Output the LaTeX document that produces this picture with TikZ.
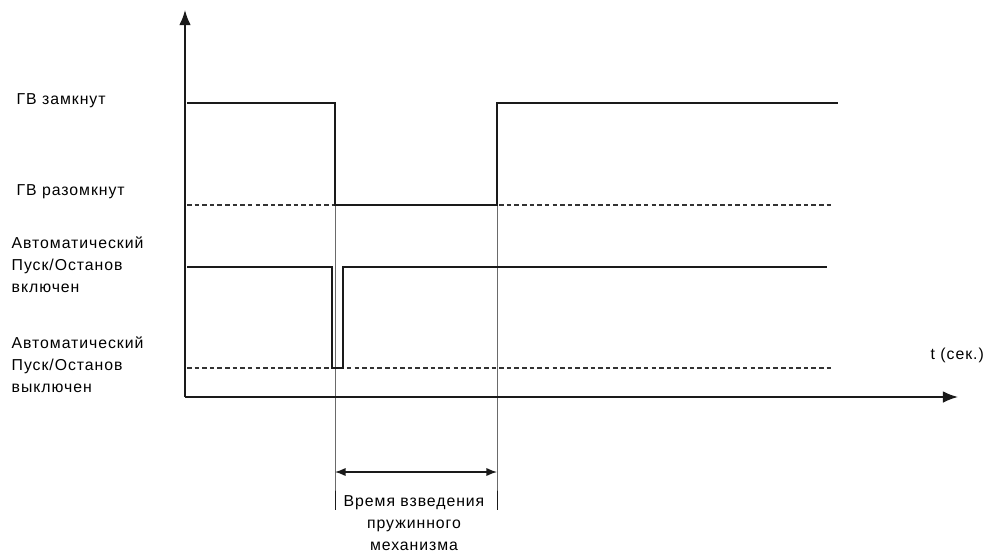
\documentclass[tikz,border=0pt]{standalone}
\usepackage{fontspec}
\setmainfont[LetterSpace=6]{Liberation Sans}
\usetikzlibrary{arrows.meta,positioning}
\definecolor{axisgray}{HTML}{1A1A1A}
\definecolor{dashgray}{HTML}{333333}

\begin{document}
\begin{tikzpicture}[x=0.03cm, y=-0.03cm, >={Latex[length=13pt,width=10pt]},
    line width=1.4pt, font=\fontsize{13.5}{18.7}\selectfont,
    levelline/.style={dashgray, line width=0.9pt, dash pattern=on 3.9pt off 2.6pt}]
  \useasboundingbox (0,0) rectangle (1003,556);

  % axes
  \draw[axisgray, ->] (185,397) -- (185,10);
  \draw[axisgray, ->] (185,397) -- (958,397);
  \node[anchor=west] (tlabel) at (926,355) {t (сек.)};

  % levels
  \node[anchor=west] (closed) at (12,101) {ГВ замкнут};
  \node[anchor=west] (opened) at (12,192) {ГВ разомкнут};
  \node[anchor=west, align=left] (autoon) at (7,265) {Автоматический\\Пуск/Останов\\включен};
  \node[anchor=west, align=left] (autooff) at (7,365) {Автоматический\\Пуск/Останов\\выключен};

  \draw[levelline] (187,205) -- (832,205);
  \draw[levelline] (187,368) -- (832,368);

  % switch state
  \draw[axisgray] (187,103) -- (335,103) -- (335,205) -- (497,205) -- (497,103) -- (838,103);
  % auto start/stop
  \draw[axisgray] (187,267) -- (332,267) -- (332,368) -- (343,368) -- (343,267) -- (827,267);

  % spring charging time
  \coordinate (t1) at (335,205);
  \coordinate (t2) at (497,205);
  \draw[axisgray, line width=0.6pt] (t1) -- ++(0,267) coordinate (a1) -- ++(0,38);
  \draw[axisgray, line width=0.6pt] (t2) -- ++(0,267) coordinate (a2) -- ++(0,38);
  \draw[axisgray, line width=1.1pt, {Latex[length=9pt,width=7pt]}-{Latex[length=9pt,width=7pt]}]
    (a1) -- (a2);
  \node[align=center] (springtime) at (414,523) {Время взведения\\пружинного\\механизма};
\end{tikzpicture}
\end{document}
